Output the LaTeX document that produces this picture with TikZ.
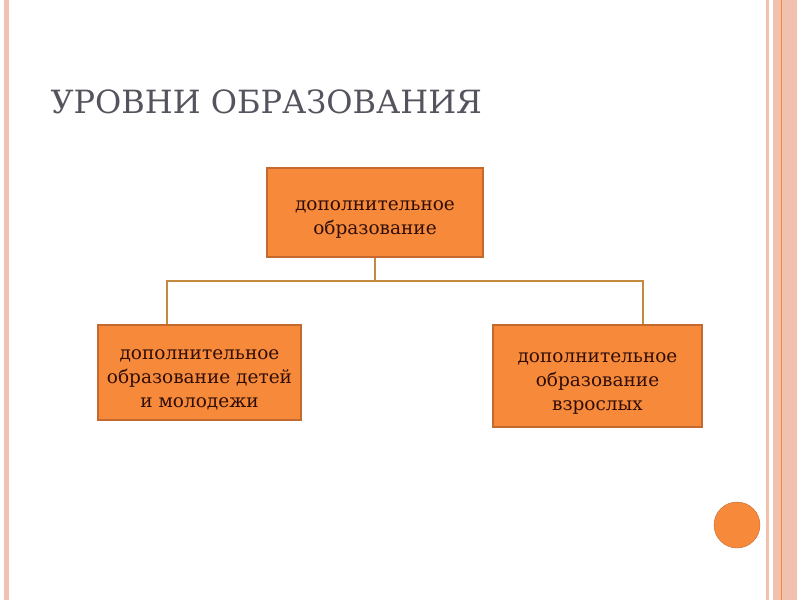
\documentclass[tikz,border=0pt]{standalone}
\usepackage{fontspec}
\setmainfont{DejaVu Serif}
\usepackage{tikz}
\usetikzlibrary{calc}

\definecolor{boxfill}{RGB}{247,138,58}
\definecolor{boxline}{RGB}{196,106,48}
\definecolor{linkcol}{RGB}{196,138,66}
\definecolor{stripe}{RGB}{242,192,174}
\definecolor{titlecol}{RGB}{84,84,94}
\definecolor{textcol}{RGB}{48,14,8}
\newcommand{\topgap}{\rule{0pt}{24pt}}

\begin{document}
\begin{tikzpicture}[x=1pt, y=-1pt,
  level/.style={draw=boxline, line width=1.6pt, fill=boxfill, text=textcol,
    align=center, inner sep=0pt, font=\fontsize{18.5}{24}\selectfont},
  link/.style={draw=linkcol, line width=1.1pt}]
  \useasboundingbox (0,0) rectangle (800,600);
  % slide frame
  \fill[white] (0,0) rectangle (800,600);
  \fill[stripe] (4,0) rectangle (9,600);
  \fill[stripe] (766,0) rectangle (768.5,600);
  \fill[stripe] (773,0) rectangle (797,600);
  \draw[boxfill, line width=0.7pt] (781,0) -- (781,600);
  \fill[boxfill, draw=boxline, line width=0.4pt] (737,525) circle (23);
  % title
  \node[anchor=base west, text=titlecol, font=\fontsize{32}{36}\selectfont] (title) at (47,113) {УРОВНИ ОБРАЗОВАНИЯ};
  % boxes
  \node[level, minimum width=216pt, minimum height=89pt] (top) at (375,212.5) {\topgap дополнительное\\образование};
  \node[level, minimum width=203pt, minimum height=95pt] (kids) at (199.5,372.5) {\topgap дополнительное\\образование детей\\и молодежи};
  \node[level, minimum width=209pt, minimum height=102pt] (adults) at (597.5,376) {\topgap дополнительное\\образование\\взрослых};
  % connectors
  \coordinate (bus) at (375,281);
  \draw[link] (top.south) -- (bus);
  \draw[link] (bus) -| ([xshift=-32.5pt]kids.north);
  \draw[link] (bus) -| ([xshift=45.5pt]adults.north);
\end{tikzpicture}
\end{document}
